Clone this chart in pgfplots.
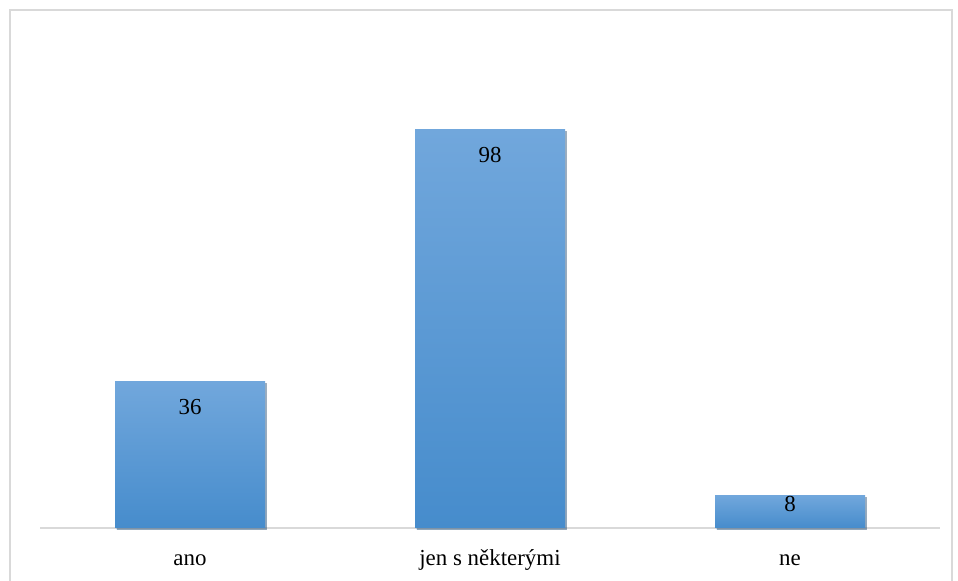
\documentclass[border=0pt]{standalone}
\usepackage{pgfplots}
\pgfplotsset{compat=1.18}
\usepackage{fontspec}
\setmainfont{Liberation Serif}
\usetikzlibrary{shadows}
\definecolor{bartop}{RGB}{113,167,220}
\definecolor{barbot}{RGB}{70,140,204}
\definecolor{lgray}{RGB}{217,217,217}
\begin{document}
\begin{tikzpicture}
\useasboundingbox (0,0) rectangle (958bp,581bp);
\draw[lgray, line width=1.5bp] (10bp,-10bp) -- (10bp,571bp) -- (952bp,571bp) -- (952bp,-10bp);
\begin{axis}[
  at={(40bp,53bp)}, anchor=south west,
  scale only axis, width=900bp, height=498bp,
  ybar, bar width=150bp, bar shift=0pt,
  xmin=-0.5, xmax=2.5, ymin=0, ymax=122.6,
  /pgf/number format/assume math mode=true,
  axis y line=none,
  axis x line*=bottom,
  x axis line style={draw=lgray, line width=1.5bp, -},
  xtick={0,1,2}, xticklabels={ano, jen s některými, ne},
  major tick length=0pt,
  xticklabel style={font=\fontsize{23}{26}\selectfont, anchor=base, yshift=-37bp},
  clip=false,
  barstyle/.style={draw=none, top color=bartop, bottom color=barbot,
    drop shadow={shadow xshift=1.5bp, shadow yshift=-1.5bp, opacity=0.3, fill=black},
    nodes near coords,
    every node near coord/.append style={anchor=north, font=\fontsize{23}{26}\selectfont, text=black}},
]
\addplot[barstyle, every node near coord/.append style={yshift=-14bp}]
  coordinates {(0,36)};
\addplot[barstyle, every node near coord/.append style={yshift=-14bp}]
  coordinates {(1,98)};
\addplot[barstyle, every node near coord/.append style={yshift=3bp}]
  coordinates {(2,8)};
\end{axis}
\end{tikzpicture}
\end{document}
